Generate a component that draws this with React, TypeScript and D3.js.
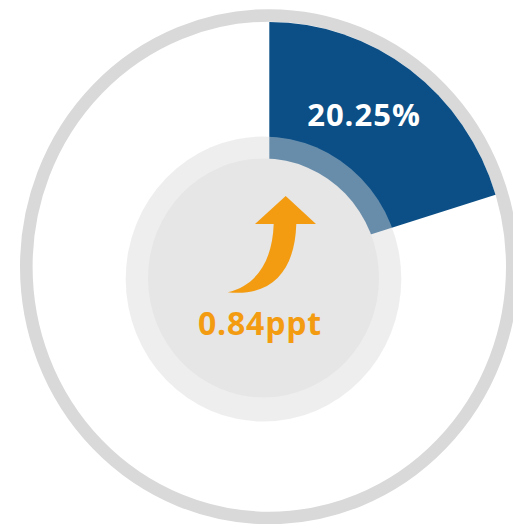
import React, { useRef, useEffect } from "react";
import * as d3 from "d3";

// values
const segments = ["share", "rest"];
const shares = [20.25, 79.75];
const changes = [0.84];
const units = ["%", "ppt"];

const App = () => {
  const svgRef = useRef<SVGSVGElement>(null);

  useEffect(() => {
    const w = 513;
    const h = 524;
    const cx = 269.3;
    const cy = 266.7;
    const sy = 1.034; // the picture is a little taller than wide
    const ringR = 243;
    const ringW = 12.6;
    const innerCx = 263.5;
    const innerCy = 279;

    const svg = d3.select(svgRef.current).attr("width", w).attr("height", h);
    svg.selectAll("*").remove();

    // outer grey ring
    svg
      .append("ellipse")
      .attr("cx", cx)
      .attr("cy", cy)
      .attr("rx", ringR)
      .attr("ry", ringR * sy)
      .attr("fill", "none")
      .attr("stroke", "#d9d9d9")
      .attr("stroke-width", ringW);

    const pie = d3
      .pie<number>()
      .sort(null)
      .value((d) => d);
    const arcs = pie(shares);
    const arc = d3
      .arc<d3.PieArcDatum<number>>()
      .innerRadius(0)
      .outerRadius(ringR - ringW / 2);

    svg
      .append("g")
      .attr("transform", `translate(${cx},${cy}) scale(1,${sy})`)
      .selectAll("path")
      .data(arcs)
      .join("path")
      .attr("d", arc)
      .attr("fill", (d, i) => (segments[i] === "share" ? "#0b4f86" : "none"));

    // light halo, lets the wedge show through
    svg
      .append("ellipse")
      .attr("cx", innerCx)
      .attr("cy", innerCy)
      .attr("rx", 137.8)
      .attr("ry", 137.8 * sy)
      .attr("fill", "#d9d9d9")
      .attr("fill-opacity", 0.45);

    // solid inner disc
    svg
      .append("ellipse")
      .attr("cx", innerCx)
      .attr("cy", innerCy - 1)
      .attr("rx", 115.5)
      .attr("ry", 115.5 * sy)
      .attr("fill", "#e6e6e6");

    // up arrow
    const ax = innerCx;
    const ay = innerCy;
    const pt = (x: number, y: number) => `${ax + x},${ay + y}`;
    svg
      .append("path")
      .attr(
        "d",
        `M${pt(-35.8, 13.3)} C${pt(-8, 7)} ${pt(9, -17)} ${pt(10.2, -55)}` +
          ` L${pt(-8.5, -55)} L${pt(22.2, -83)} L${pt(52.5, -55)} L${pt(32.8, -55)}` +
          ` C${pt(31.5, -10)} ${pt(10, 18)} ${pt(-35.8, 13.3)} Z`
      )
      .attr("fill", "#f39c12");

    svg
      .append("text")
      .attr("x", 364)
      .attr("y", 125.7)
      .attr("text-anchor", "middle")
      .attr("font-family", "'Open Sans', sans-serif")
      .attr("font-weight", "bold")
      .attr("font-size", 31)
      .attr("letter-spacing", 1)
      .attr("fill", "#ffffff")
      .text(d3.format(".2f")(shares[0]) + units[0]);

    svg
      .append("text")
      .attr("x", 260)
      .attr("y", 335)
      .attr("text-anchor", "middle")
      .attr("font-family", "'Open Sans', sans-serif")
      .attr("font-weight", "bold")
      .attr("font-size", 32)
      .attr("letter-spacing", 0.8)
      .attr("fill", "#f39c12")
      .text(d3.format(".2f")(changes[0]) + units[1]);
  }, []);

  return (
    <svg
      ref={svgRef}
      style={{ position: "absolute", left: 0, top: 0, display: "block" }}
    ></svg>
  );
};

export default App;
